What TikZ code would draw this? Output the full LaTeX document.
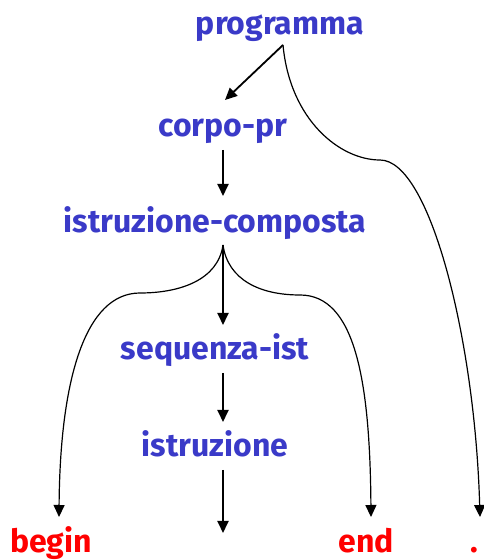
\documentclass[tikz,border=0pt]{standalone}
\usepackage{fontspec}
\setmainfont{Fira Sans}
\usetikzlibrary{arrows.meta,calc}
\definecolor{ntblue}{RGB}{58,58,200}
\definecolor{tred}{RGB}{255,0,0}
\tikzset{
  lbl/.style={anchor=base,inner sep=0pt,font=\fontsize{32}{34}\selectfont\bfseries},
  nonterm/.style={lbl,text=ntblue},
  term/.style={lbl,text=tred},
  tiparrow/.style={-{Triangle[length=12pt,width=11pt]}},
  straightarrow/.style={tiparrow,line width=1.8pt},
  curvedarrow/.style={tiparrow,line width=1.2pt},
}
\begin{document}
\begin{tikzpicture}[x=1pt,y=1pt]
\useasboundingbox (0,0) rectangle (484,560);
% grammar symbols
\node[nonterm] (prog)  at (280,525) {programma};
\node[nonterm] (corpo) at (223,423) {corpo-pr};
\node[nonterm] (ic)    at (215,327) {istruzione-composta};
\node[nonterm] (seq)   at (215,200) {sequenza-ist};
\node[nonterm] (istr)  at (215,103) {istruzione};
\node[term]    (begin) at (51,8)    {begin};
\node[term]    (end)   at (366,8)   {end};
\node[term]    (dot)   at (474,8)   {.};
\coordinate (istrdown) at (223,27);
% straight derivation arrows
\draw[straightarrow] ($(prog.base)+(3,-10)$) -- ($(corpo.base)+(2,37)$);
\draw[straightarrow] ($(corpo.base)+(0,-13)$) -- ($(ic.base)+(8,37)$);
\draw[straightarrow] ($(ic.base)+(8,-12)$) -- ($(seq.base)+(8,35)$);
\draw[straightarrow] ($(seq.base)+(8,-13)$) -- ($(istr.base)+(8,35)$);
\draw[straightarrow] ($(istr.base)+(8,-13)$) -- (istrdown);
% curved derivation arrows
\draw[curvedarrow] ($(ic.base)+(8,-12)$) .. controls (218,280) and (180,267) .. (140,267)
  .. controls (85,267) and (60,180) .. ($(begin.base)+(8,35)$);
\draw[curvedarrow] ($(ic.base)+(8,-12)$) .. controls (228,280) and (260,265) .. (300,265)
  .. controls (355,265) and (370,180) .. ($(end.base)+(5,35)$);
\draw[curvedarrow] ($(prog.base)+(3,-10)$) .. controls (290,440) and (340,400) .. (380,400)
  .. controls (430,400) and (475,220) .. ($(dot.base)+(6,35)$);
\end{tikzpicture}
\end{document}
